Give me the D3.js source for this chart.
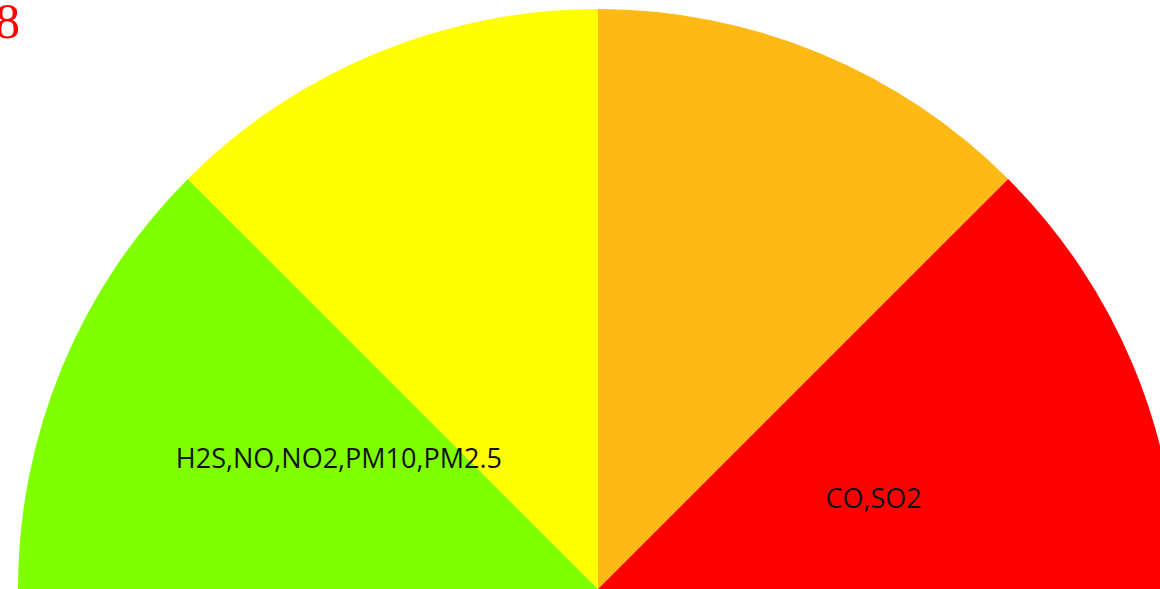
<!DOCTYPE html>
<html>
<head>
<meta charset="utf-8">
<script src="https://cdn.jsdelivr.net/npm/d3@7"></script>
<style>
  html, body { margin: 0; padding: 0; background: #fff; overflow: hidden; }
  #chart { width: 1160px; height: 589px; }
</style>
</head>
<body>
<div id="chart"></div>
<script>
// 四个等级，各占半圆的四分之一
const levels = ['良', '中', '差', '危'];
const levelValues = [1, 1, 1, 1];
const levelColors = ['#7fff00', '#ffff00', '#ffb914', '#ff0000'];
// 各等级里的污染物（空的不显示）
const levelLabels = ['H2S,NO,NO2,PM10,PM2.5', '', '', 'CO,SO2'];
const cornerText = '8';

function drawGauge() {
  const width = 1160;
  const height = 589;
  const radius = 580;
  const cx = 598;
  const cy = 589;

  const svg = d3.select('#chart')
    .append('svg')
    .attr('width', width)
    .attr('height', height);

  const g = svg.append('g')
    .attr('transform', `translate(${cx},${cy})`);

  const data = levels.map((l, i) => ({ level: l, value: levelValues[i], label: levelLabels[i], idx: i }));

  // 上半圆
  const pie = d3.pie()
    .value(d => d.value)
    .sort(null)
    .startAngle(-Math.PI / 2)
    .endAngle(Math.PI / 2);

  const arc = d3.arc()
    .innerRadius(0)
    .outerRadius(radius);

  const slices = pie(data);

  g.selectAll('.slice')
    .data(slices)
    .enter()
    .append('path')
    .attr('class', 'slice')
    .attr('d', arc)
    .attr('fill', d => levelColors[d.data.idx]);

  // 标签放在最上层：半径一半处，角度稍微偏一点（原图就是这样）
  const labelShift = [0.0233, 0, 0, 0.0244];
  g.selectAll('.label')
    .data(slices.filter(d => d.data.label !== ''))
    .enter()
    .append('text')
    .attr('class', 'label')
    .attr('transform', d => {
      const a = (d.startAngle + d.endAngle) / 2 + labelShift[d.data.idx] * Math.PI;
      const r = radius / 2;
      return `translate(${r * Math.sin(a)},${-r * Math.cos(a)})`;
    })
    .attr('dy', '.35em')
    .attr('text-anchor', 'middle')
    .attr('fill', '#111')
    .style('font-family', '"Open Sans", sans-serif')
    .style('font-size', '27px')
    .text(d => d.data.label);

  // 左上角的红字（被裁掉一半）
  svg.append('text')
    .attr('x', 20)
    .attr('y', 38)
    .attr('text-anchor', 'end')
    .attr('fill', '#ff0000')
    .style('font-family', '"Liberation Serif", serif')
    .style('font-size', '50px')
    .text(cornerText);
}

drawGauge();
</script>
</body>
</html>
